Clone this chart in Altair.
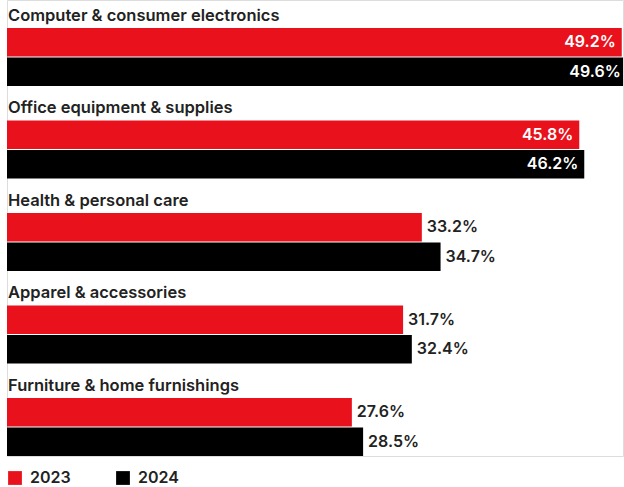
import altair as alt
import pandas as pd

categories = ["Computer & consumer electronics", "Office equipment & supplies",
              "Health & personal care", "Apparel & accessories",
              "Furniture & home furnishings"]
years = ["2023", "2024"]
values_2023 = [49.2, 45.8, 33.2, 31.7, 27.6]
values_2024 = [49.6, 46.2, 34.7, 32.4, 28.5]

rows = []
for c, a, b in zip(categories, values_2023, values_2024):
    rows.append({"cat": c, "year": "2023", "value": a})
    rows.append({"cat": c, "year": "2024", "value": b})
df = pd.DataFrame(rows)
df["label"] = df["value"].map(lambda v: f"{v:.1f}%")
cats_df = pd.DataFrame({"cat": categories})

FONT = "Inter"
W, H = 616, 456

yscale = alt.Scale(domain=categories, paddingInner=0.373, paddingOuter=0.151, align=1)
ysc = alt.Y("cat:N", scale=yscale, axis=None, sort=categories)
yoff = alt.YOffset("year:N", scale=alt.Scale(domain=years, paddingInner=0.03))
xsc = alt.X("value:Q", scale=alt.Scale(domain=[0, 49.3], nice=False, zero=True), axis=None)

base = alt.Chart(df)

bars = base.mark_bar(clip=True).encode(
    x=xsc, y=ysc, yOffset=yoff,
    color=alt.Color("year:N", scale=alt.Scale(domain=years, range=["#E8111C", "#000000"]),
                    legend=alt.Legend(title=None, orient="none", legendX=0, legendY=470,
                                      direction="horizontal", symbolType="square",
                                      symbolSize=190, symbolStrokeWidth=0,
                                      labelFont=FONT, labelFontSize=16, labelFontWeight=600,
                                      labelColor="#222222", columnPadding=44, labelOffset=7)),
)

inside = base.transform_filter("datum.value > 40").mark_text(
    align="right", baseline="middle", dx=-6, font=FONT, fontSize=16, fontWeight=600, color="white"
).encode(x=xsc, y=ysc, yOffset=yoff, text="label:N")

outside = base.transform_filter("datum.value <= 40").mark_text(
    align="left", baseline="middle", dx=5, font=FONT, fontSize=16, fontWeight=600, color="#222222"
).encode(x=xsc, y=ysc, yOffset=yoff, text="label:N")

titles = alt.Chart(cats_df).mark_text(
    align="left", baseline="alphabetic", dy=-7, font=FONT, fontSize=16.5, fontWeight=600, color="#222222"
).encode(x=alt.value(1), y=alt.Y("cat:N", scale=yscale, axis=None, sort=categories, bandPosition=0),
         text="cat:N")

chart = alt.layer(bars, inside, outside, titles).properties(
    width=W, height=H,
    padding={"left": 7, "right": 1, "top": 0, "bottom": 0},
).configure_view(stroke=None).configure(background="white")

chart.save("out.html", embed_options={"renderer": "svg", "actions": False})
